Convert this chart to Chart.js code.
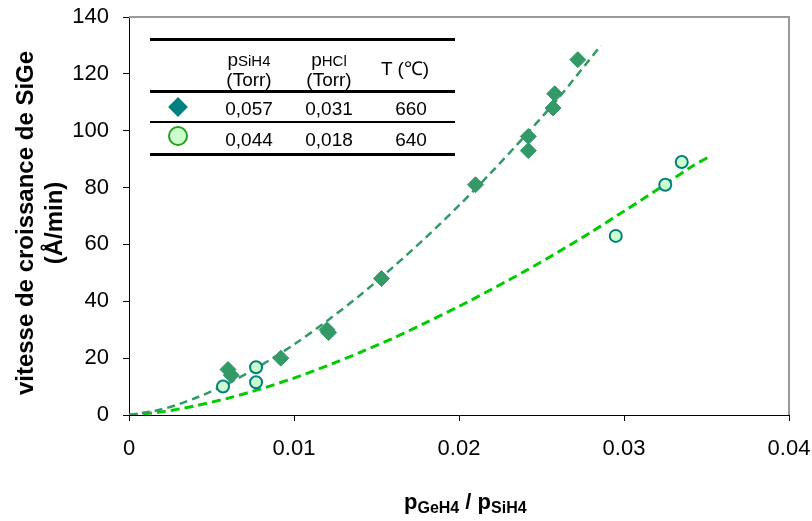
<!DOCTYPE html>
<html>
<head>
<meta charset="utf-8">
<script src="https://cdn.jsdelivr.net/npm/chart.js@4.4.1/dist/chart.umd.min.js"></script>
<style>
  body { margin: 0; background: #fff; }
  #wrap { position: relative; width: 812px; height: 521px; font-family: 'Liberation Sans', Arial, sans-serif; color: #000; }
  canvas { position: absolute; left: 0; top: 0; }
  .rule { position: absolute; left: 150px; width: 305px; background: #000; }
  .cell { position: absolute; font-size: 19px; line-height: 20px; height: 20px; white-space: nowrap; transform: translateX(-50%); }
  .cell span { font-size: 15px; }
  #ytitle { position: absolute; left: -161px; top: 194px; width: 400px; height: 58px; font-size: 24px; font-weight: bold; line-height: 29px; text-align: center; transform: rotate(-90deg); }
  #xtitle { position: absolute; left: 404px; top: 489px; font-size: 22px; font-weight: bold; line-height: 26px; white-space: nowrap; }
  #xtitle span { font-size: 16px; vertical-align: -4px; }
  .sym-diamond { position: absolute; left: 171px; top: 100px; width: 14px; height: 14px; background: #008080; transform: rotate(45deg); }
  .sym-circle { position: absolute; left: 168px; top: 126px; width: 16px; height: 16px; border: 2px solid #22a022; border-radius: 50%; background: #ccffcc; }
</style>
</head>
<body>
<div id="wrap">
  <canvas id="growthChart" width="812" height="521"></canvas>

  <div id="ytitle">vitesse de croissance de SiGe<br>(Å/min)</div>
  <div id="xtitle">p<span>GeH4</span> / p<span>SiH4</span></div>

  <!-- legend table -->
  <div class="rule" style="top:38px;height:3px"></div>
  <div class="rule" style="top:90px;height:3px"></div>
  <div class="rule" style="top:121px;height:2px"></div>
  <div class="rule" style="top:153px;height:3px"></div>
  <div class="cell" style="left:249px;top:50px">p<span>SiH4</span></div>
  <div class="cell" style="left:249px;top:70px">(Torr)</div>
  <div class="cell" style="left:329px;top:50px">p<span>HCl</span></div>
  <div class="cell" style="left:329px;top:70px">(Torr)</div>
  <div class="cell" style="left:405px;top:59px">T (℃)</div>
  <div class="sym-diamond"></div>
  <div class="cell" style="left:249px;top:99px">0,057</div>
  <div class="cell" style="left:329px;top:99px">0,031</div>
  <div class="cell" style="left:411px;top:99px">660</div>
  <div class="sym-circle"></div>
  <div class="cell" style="left:249px;top:130px">0,044</div>
  <div class="cell" style="left:329px;top:130px">0,018</div>
  <div class="cell" style="left:411px;top:130px">640</div>
</div>

<script>
// measured points, 660 °C series (diamonds)
const diamondX = [0.0060, 0.0062, 0.0092, 0.0120, 0.0121, 0.0153, 0.0210, 0.0242, 0.0242, 0.0257, 0.0258, 0.0272];
const diamondY = [16, 14, 20, 30, 29, 48, 81, 98, 93, 108, 113, 125];

// measured points, 640 °C series (circles)
const circleX = [0.0057, 0.0077, 0.0077, 0.0295, 0.0325, 0.0335];
const circleY = [10, 16.8, 11.5, 63, 81, 89];

// trend curves
const trendDarkX = [0, 0.002, 0.004, 0.006, 0.008, 0.010, 0.012, 0.014, 0.016, 0.018, 0.020, 0.022, 0.024, 0.026, 0.0286];
const trendDarkY = [0, 2, 5.9, 11.1, 17.5, 24.8, 33.1, 42.1, 52, 62.5, 73.7, 85.6, 98.2, 111.3, 130];
const trendLightX = [0, 0.002, 0.004, 0.006, 0.008, 0.010, 0.012, 0.014, 0.016, 0.018, 0.020, 0.022, 0.024, 0.026, 0.028, 0.030, 0.032, 0.034, 0.0352];
const trendLightY = [0, 1.1, 3.2, 5.9, 9.2, 13, 17.3, 22, 27, 32.5, 38.2, 44.3, 50.6, 57.3, 64.3, 71.7, 79.2, 87, 91];

// axis ticks
const xTicks = [0, 0.01, 0.02, 0.03, 0.04];
const yTicks = [0, 20, 40, 60, 80, 100, 120, 140];

const toPoints = (xs, ys) => xs.map((x, i) => ({ x: x, y: ys[i] }));

// gray top/right frame like the Excel plot area
const plotFrame = {
    id: 'plotFrame',
    afterDraw(chart) {
        const { ctx, chartArea: a } = chart;
        ctx.save();
        ctx.strokeStyle = '#999';
        ctx.lineWidth = 2;
        ctx.beginPath();
        ctx.moveTo(a.left, a.top);
        ctx.lineTo(a.right, a.top);
        ctx.lineTo(a.right, a.bottom);
        ctx.stroke();
        ctx.restore();
    }
};

const tickFont = { family: "'Liberation Sans', Arial, sans-serif", size: 22 };

new Chart(document.getElementById('growthChart').getContext('2d'), {
    type: 'scatter',
    data: {
        datasets: [
            {
                label: '660',
                data: toPoints(diamondX, diamondY),
                pointStyle: 'rectRot',
                pointRadius: 8,
                backgroundColor: '#339966',
                borderColor: '#339966',
                borderWidth: 1
            },
            {
                label: '640',
                data: toPoints(circleX, circleY),
                pointStyle: 'circle',
                pointRadius: 6,
                backgroundColor: '#ccffcc',
                borderColor: '#008080',
                borderWidth: 2
            },
            {
                label: 'trend 660',
                data: toPoints(trendDarkX, trendDarkY),
                showLine: true,
                pointRadius: 0,
                borderColor: '#339966',
                borderWidth: 2.5,
                borderDash: [8, 5],
                tension: 0.3,
                fill: false
            },
            {
                label: 'trend 640',
                data: toPoints(trendLightX, trendLightY),
                showLine: true,
                pointRadius: 0,
                borderColor: '#00cc00',
                borderWidth: 3,
                borderDash: [9, 5],
                tension: 0.3,
                fill: false
            }
        ]
    },
    options: {
        responsive: false,
        animation: false,
        layout: { padding: { top: 17, right: 23, left: 0, bottom: 0 } },
        plugins: {
            legend: { display: false },
            tooltip: { enabled: false }
        },
        scales: {
            x: {
                type: 'linear',
                min: xTicks[0],
                max: xTicks[xTicks.length - 1],
                afterBuildTicks: (scale) => { scale.ticks = xTicks.map(v => ({ value: v })); },
                afterFit: (scale) => {
                    scale.height = 106;
                    scale.paddingLeft = 0;
                    scale.paddingRight = 0;
                },
                ticks: {
                    font: tickFont,
                    color: '#000',
                    padding: 15,
                    maxRotation: 0,
                    callback: (v) => v === 0 ? '0' : v.toFixed(2)
                },
                grid: { drawOnChartArea: false, color: '#000', tickLength: 6 },
                border: { color: '#000', width: 1 }
            },
            y: {
                min: yTicks[0],
                max: yTicks[yTicks.length - 1],
                afterBuildTicks: (scale) => { scale.ticks = yTicks.map(v => ({ value: v })); },
                afterFit: (scale) => {
                    scale.width = 129;
                    scale.paddingTop = 0;
                    scale.paddingBottom = 0;
                },
                ticks: {
                    font: tickFont,
                    color: '#000',
                    padding: 14
                },
                grid: { drawOnChartArea: false, color: '#000', tickLength: 6 },
                border: { color: '#000', width: 1 }
            }
        }
    },
    plugins: [plotFrame]
});
</script>
</body>
</html>
